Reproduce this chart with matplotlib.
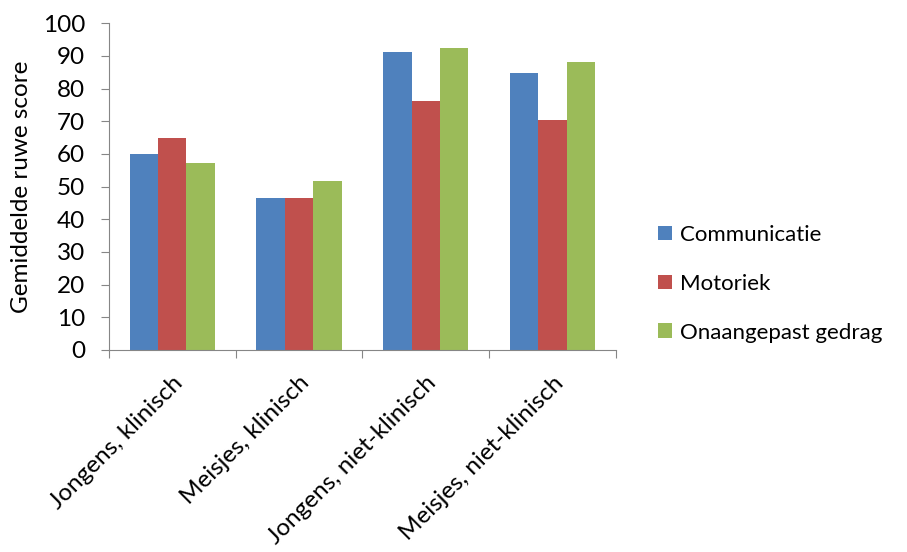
import numpy as np
import matplotlib.pyplot as plt
from matplotlib.patches import Patch

plt.rcParams['font.family'] = ['Lato', 'DejaVu Sans']

groepen = ['Jongens, klinisch', 'Meisjes, klinisch',
           'Jongens, niet-klinisch', 'Meisjes, niet-klinisch']
reeksen = ['Communicatie', 'Motoriek', 'Onaangepast gedrag']
communicatie = [60.0, 46.6, 91.1, 84.8]
motoriek = [64.9, 46.6, 76.2, 70.3]
onaangepast = [57.2, 51.6, 92.3, 88.0]
kleuren = ['#4F81BD', '#C0504D', '#9BBB59']

fs = 17.5

fig = plt.figure(figsize=(9.07, 5.52), dpi=100)
ax = fig.add_axes([0.120, 0.366, 0.559, 0.592])

x = np.arange(len(groepen))
breedte = 0.224
for i, (waarden, kleur) in enumerate(zip([communicatie, motoriek, onaangepast], kleuren)):
    ax.bar(x + (i - 1) * breedte, waarden, breedte, color=kleur, edgecolor='none')

ax.set_xlim(-0.5, len(groepen) - 0.5)
ax.set_ylim(0, 100)
ax.set_yticks(range(0, 101, 10))
ax.set_xticks(np.arange(len(groepen) + 1) - 0.5)
ax.set_xticklabels([])
ax.set_xticks(x, minor=True)
ax.set_xticklabels(groepen, minor=True, rotation=45, ha='right',
                   rotation_mode='anchor', fontsize=fs, color='#000000')
ax.tick_params(axis='x', which='minor', length=0, pad=16)
ax.tick_params(axis='x', which='major', length=6, color='#868686', direction='out')
ax.tick_params(axis='y', length=6, color='#868686', direction='out', labelsize=fs, pad=11)

for kant in ['top', 'right']:
    ax.spines[kant].set_visible(False)
for kant in ['left', 'bottom']:
    ax.spines[kant].set_color('#868686')

ax.set_ylabel('Gemiddelde ruwe score', fontsize=fs, labelpad=8)

handles = [Patch(facecolor=k, edgecolor='none') for k in kleuren]
fig.legend(handles, reeksen, loc='center left', bbox_to_anchor=(0.703, 0.486),
           frameon=False, fontsize=16, handlelength=0.65, handleheight=0.65,
           handletextpad=0.35, labelspacing=1.3)

fig.savefig('out.png', dpi=100)
